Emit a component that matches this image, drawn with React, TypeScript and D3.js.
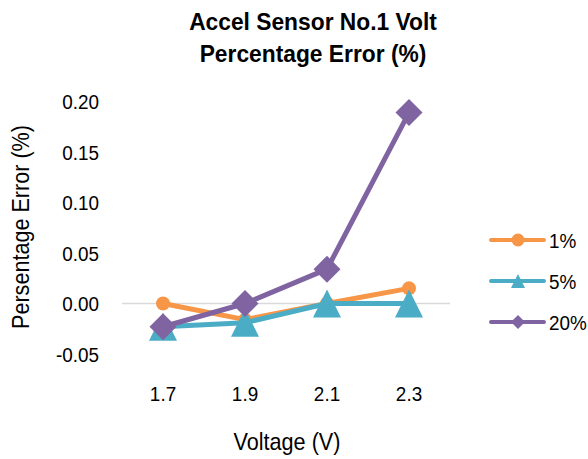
import React from 'react';
import * as d3 from 'd3';

const categories = ['1.7', '1.9', '2.1', '2.3'];
const seriesNames = ['1%', '5%', '20%'];
const err1 = [0.0, -0.016, 0.0, 0.015];
const err5 = [-0.023, -0.019, 0.0, 0.0];
const err20 = [-0.023, 0.0, 0.034, 0.189];
const yTicks = [-0.05, 0.0, 0.05, 0.1, 0.15, 0.2];
const colors = ['#F79646', '#4BACC6', '#8064A2'];

const font = '"Liberation Sans", Arial, sans-serif';

// marker path, sized by bounding box
const marker = (k: number, s: number) => {
  const p = d3.path();
  if (k === 0) {
    p.arc(0, 0, s / 2, 0, Math.PI * 2);
  } else if (k === 1) {
    p.moveTo(0, -s / 2); p.lineTo(s / 2, s / 2); p.lineTo(-s / 2, s / 2); p.closePath();
  } else {
    p.moveTo(0, -s / 2); p.lineTo(s / 2, 0); p.lineTo(0, s / 2); p.lineTo(-s / 2, 0); p.closePath();
  }
  return p.toString();
};

const T = ({ x, y, size, anchor = 'start', bold = false, sx = 0.9, rot = 0, children }: any) => (
  <g transform={`translate(${x},${y}) rotate(${rot}) scale(${sx},1)`}>
    <text fontSize={size} textAnchor={anchor} fontWeight={bold ? 'bold' : 'normal'} fill="#000">{children}</text>
  </g>
);

const App = () => {
  const w = 588;
  const h = 459;
  const left = 122, right = 450;

  const x = d3.scaleBand().domain(categories).range([left, right]);
  const y = d3.scaleLinear().domain([-0.05, 0.2]).range([354, 101.5]);
  const all = [err1, err5, err20];
  const cx = (i: number) => x(categories[i])! + x.bandwidth() / 2;

  const line = d3.line<number>()
    .x((d, i) => cx(i))
    .y(d => y(d));

  const chartSize = [14, 28, 27];
  const legSize = [13, 14, 14];
  const legY = [240, 281, 322];

  return (
    <svg width={w} height={h} style={{ position: 'absolute', left: 0, top: 0 }} fontFamily={font}>
      <rect width={w} height={h} fill="#fff" />
      <T x={313} y={30} size={24} bold anchor="middle" sx={0.95}>Accel Sensor No.1 Volt</T>
      <T x={313} y={62} size={24} bold anchor="middle" sx={0.95}>Percentage Error (%)</T>

      <line x1={left} x2={right} y1={y(0)} y2={y(0)} stroke="#D9D9D9" strokeWidth={1.5} />

      {yTicks.map(t => (
        <T key={t} x={99} y={y(t) + 7.5} size={21} anchor="end">{d3.format('.2f')(t).replace('\u2212', '-')}</T>
      ))}
      {categories.map((c, i) => (
        <T key={c} x={cx(i)} y={401} size={21} anchor="middle">{c}</T>
      ))}

      <T x={29} y={227} size={24} anchor="middle" rot={-90}>Persentage Error (%)</T>
      <T x={287} y={450} size={24} anchor="middle">Voltage (V)</T>

      {all.map((s, k) => (
        <g key={k}>
          <path d={line(s)!} fill="none" stroke={colors[k]} strokeWidth={5} strokeLinejoin="round" />
          {s.map((d, i) => (
            <path key={i} d={marker(k, chartSize[k])} transform={`translate(${cx(i)},${y(d)})`} fill={colors[k]} />
          ))}
        </g>
      ))}

      {seriesNames.map((n, k) => (
        <g key={n}>
          <line x1={491} x2={544} y1={legY[k]} y2={legY[k]} stroke={colors[k]} strokeWidth={4} strokeLinecap="round" />
          <path d={marker(k, legSize[k])} transform={`translate(518,${legY[k]})`} fill={colors[k]} />
          <T x={549} y={legY[k] + 7.5} size={21}>{n}</T>
        </g>
      ))}
    </svg>
  );
};

export default App;
